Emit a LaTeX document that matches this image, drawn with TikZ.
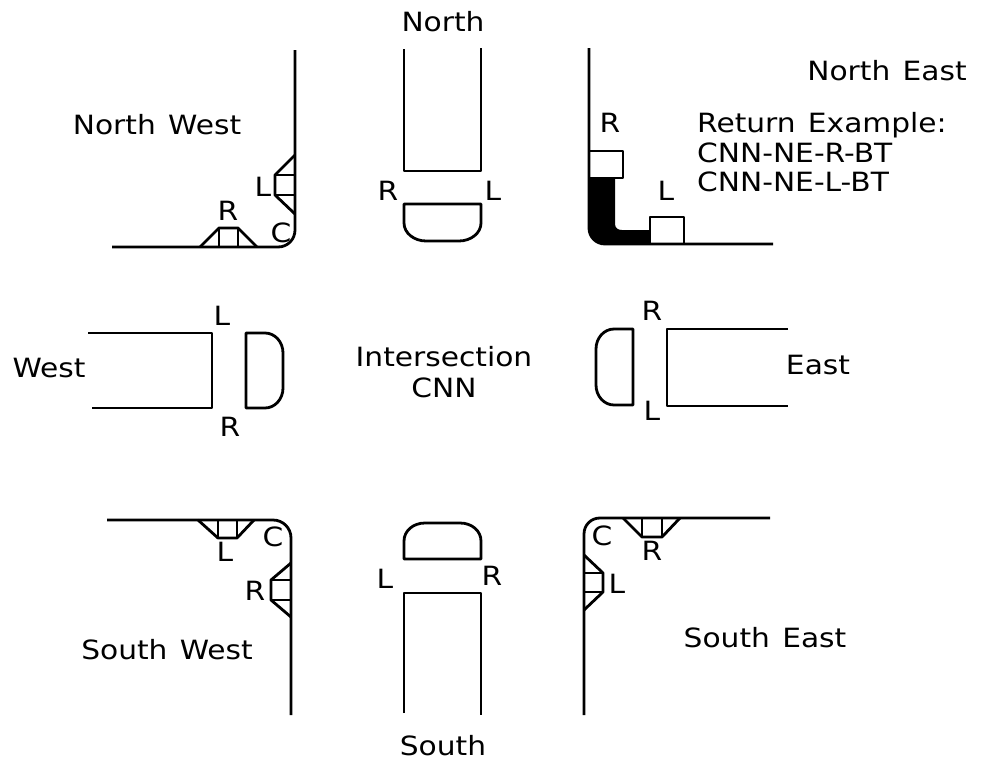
\documentclass[tikz,border=0pt]{standalone}
\usepackage{fontspec}
\newfontfamily\cadfont[FakeStretch=1.12,WordSpace=1.3]{DejaVu Sans}
\begin{document}
\begin{tikzpicture}[x=1pt,y=-1pt,
  ln/.style={line width=2.8pt, line join=round},
  txt/.style={font=\cadfont\fontsize{26.5}{32}\selectfont, inner sep=0pt}]
\useasboundingbox (0,0) rectangle (984,763);
% ---------- North West corner ----------
\draw[ln] (295,50) -- (295,230) .. controls (295,239) and (288,247) .. (278,247) -- (112,247);
\draw[ln] (295,155) -- (275,175) -- (275,195) -- (295,214);
\draw[ln] (275,175) -- (295,175) (275,195) -- (295,195);
\draw[ln] (200,247) -- (219,228) -- (238,228) -- (257,247);
\draw[ln] (219,228) -- (219,247) (238,228) -- (238,247);
\node[txt] (nwL) at (263,187) {L};
\node[txt] (nwR) at (228,211) {R};
\node[txt] (nwC) at (281,233) {C};
\node[txt] (nw) at (157,125) {North West};
% ---------- North ----------
\node[txt] (n) at (443,22) {North};
\draw[ln] (404,49) -- (404,171) -- (481,171) -- (481,48);
\draw[ln] (481,204) -- (404,204) -- (404,223) .. controls (404,233) and (414,241) .. (426,241)
  -- (459,241) .. controls (471,241) and (481,233) .. (481,223) -- cycle;
\node[txt] (nR) at (388,191) {R};
\node[txt] (nL) at (493,191) {L};
% ---------- North East ----------
\draw[ln] (589,48) -- (589,228) .. controls (589,237) and (596,244) .. (605,244) -- (773,244);
\fill (589,178) -- (615,178) -- (615,224) .. controls (615,228) and (618,230) .. (622,230)
  -- (650,230) -- (650,244) -- (605,244) .. controls (596,244) and (589,237) .. (589,228) -- cycle;
\draw[ln] (589,151) rectangle (623,178);
\draw[ln] (650,217) rectangle (684,244);
\node[txt] (neR) at (610,123) {R};
\node[txt] (neL) at (666,191) {L};
\node[txt] (ne) at (887,71) {North East};
\node[txt,anchor=west] (ret) at (697,125) {Return Example:};
\node[txt,anchor=west] (ex1) at (697,153) {CNN-NE-R-BT};
\node[txt,anchor=west] (ex2) at (697,182) {CNN-NE-L-BT};
% ---------- West ----------
\draw[ln] (88,333) -- (212,333) -- (212,408) -- (92,408);
\draw[ln] (246,333) -- (246,408) -- (265,408) .. controls (275,408) and (283,399) .. (283,388)
  -- (283,353) .. controls (283,342) and (275,333) .. (265,333) -- cycle;
\node[txt] (w) at (49,368) {West};
\node[txt] (wL) at (222,316) {L};
\node[txt] (wR) at (230,427) {R};
% ---------- Centre ----------
\node[txt] (ic) at (444,357) {Intersection};
\node[txt] (icc) at (444,388) {CNN};
% ---------- East ----------
\draw[ln] (788,329) -- (667,329) -- (667,406) -- (788,406);
\draw[ln] (633,329) -- (633,405) -- (614,405) .. controls (604,405) and (596,396) .. (596,385)
  -- (596,349) .. controls (596,338) and (604,329) .. (614,329) -- cycle;
\node[txt] (eR) at (652,311) {R};
\node[txt] (eL) at (652,411) {L};
\node[txt] (e) at (818,365) {East};
% ---------- South West ----------
\draw[ln] (107,520) -- (273,520) .. controls (283,520) and (291,528) .. (291,538) -- (291,715);
\draw[ln] (198,520) -- (218,538) -- (237,538) -- (254,520);
\draw[ln] (218,520) -- (218,538) (237,520) -- (237,538);
\draw[ln] (291,563) -- (271,580) -- (271,600) -- (291,617);
\draw[ln] (271,580) -- (291,580) (271,600) -- (291,600);
\node[txt] (swL) at (225,552) {L};
\node[txt] (swC) at (273,537) {C};
\node[txt] (swR) at (255,591) {R};
\node[txt] (sw) at (167,650) {South West};
% ---------- South ----------
\draw[ln] (404,559) -- (481,559) -- (481,541) .. controls (481,531) and (472,523) .. (460,523)
  -- (425,523) .. controls (413,523) and (404,531) .. (404,541) -- cycle;
\draw[ln] (404,713) -- (404,593) -- (481,593) -- (481,715);
\node[txt] (sL) at (385,579) {L};
\node[txt] (sR) at (492,576) {R};
\node[txt] (s) at (443,746) {South};
% ---------- South East ----------
\draw[ln] (770,518) -- (600,518) .. controls (591,518) and (584,525) .. (584,534) -- (584,715);
\draw[ln] (623,518) -- (642,537) -- (662,537) -- (680,518);
\draw[ln] (642,518) -- (642,537) (662,518) -- (662,537);
\draw[ln] (584,555) -- (603,573) -- (603,592) -- (584,610);
\draw[ln] (584,573) -- (603,573) (584,592) -- (603,592);
\node[txt] (seR) at (652,551) {R};
\node[txt] (seC) at (602,536) {C};
\node[txt] (seL) at (617,584) {L};
\node[txt] (se) at (765,638) {South East};
\end{tikzpicture}
\end{document}
